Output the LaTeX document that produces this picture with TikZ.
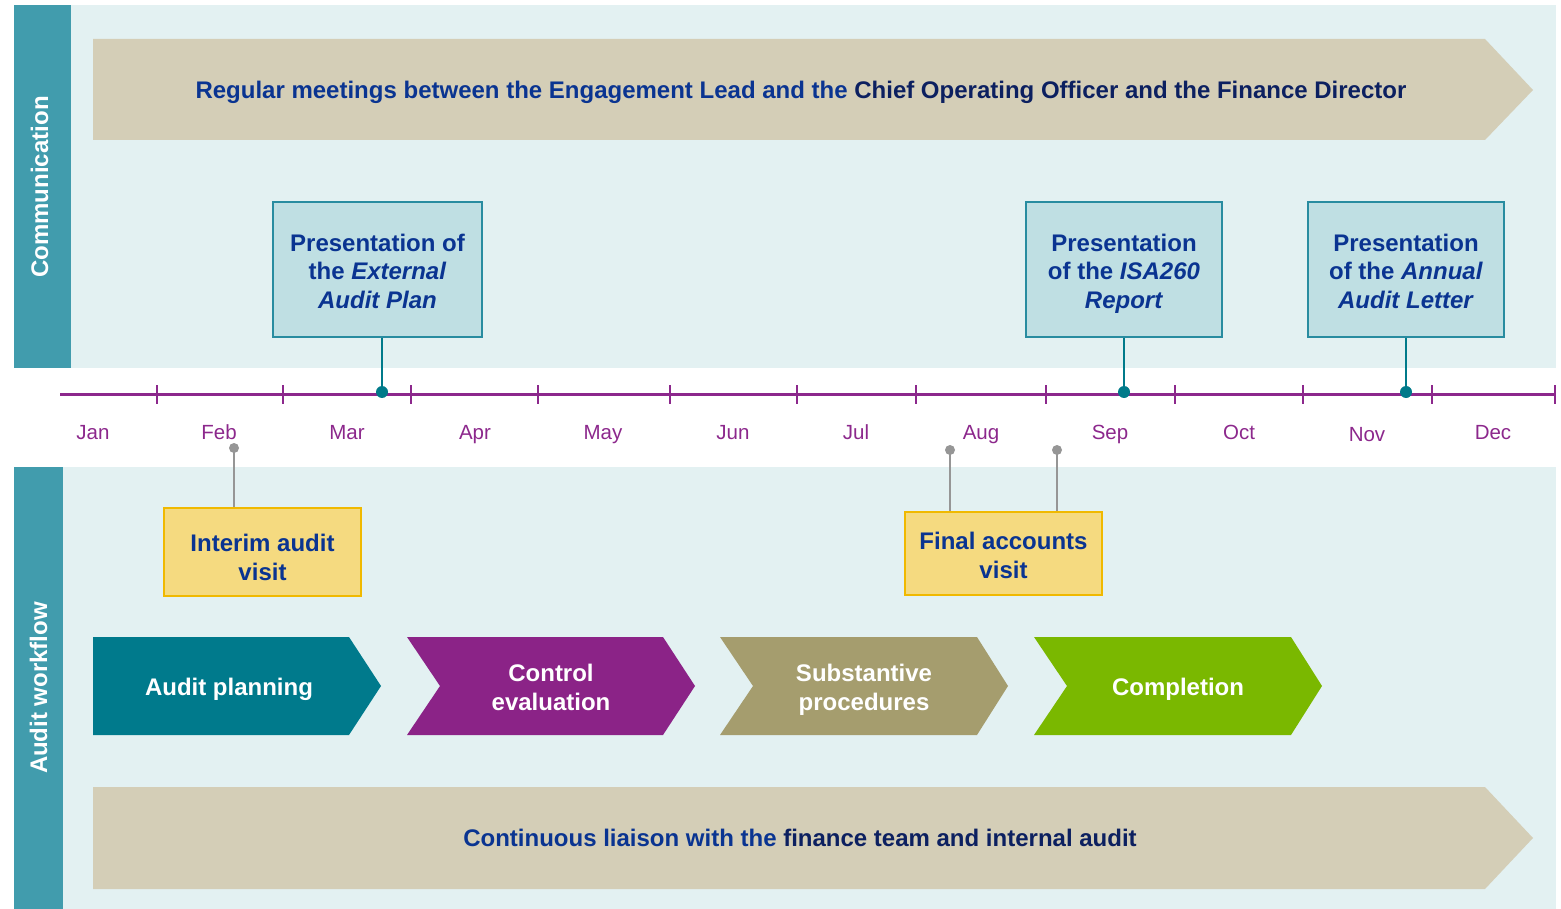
\documentclass[tikz,border=0pt]{standalone}
\usepackage{fontspec}
\setmainfont{Liberation Sans}
\usetikzlibrary{positioning,calc}
\definecolor{sidebar}{RGB}{65,156,173}
\definecolor{panel}{RGB}{227,241,242}
\definecolor{beige}{RGB}{212,206,183}
\definecolor{textblue}{RGB}{10,52,145}
\definecolor{textnavy}{RGB}{12,32,96}
\definecolor{lineviolet}{RGB}{140,40,140}
\definecolor{boxfill}{RGB}{191,223,227}
\definecolor{boxedge}{RGB}{40,140,160}
\definecolor{stemteal}{RGB}{0,122,138}
\definecolor{stemgray}{RGB}{150,150,150}
\definecolor{visitfill}{RGB}{245,218,128}
\definecolor{visitedge}{RGB}{240,185,0}
\definecolor{planning}{RGB}{0,122,140}
\definecolor{control}{RGB}{139,35,135}
\definecolor{substantive}{RGB}{165,157,110}
\definecolor{completion}{RGB}{122,184,0}

\begin{document}
\begin{tikzpicture}[x=1pt, y=-1pt,
    every node/.style={font=\bfseries\fontsize{24}{28.6}\selectfont, inner sep=0pt,
        execute at end node=\vphantom{bg}},
    present/.style={draw=boxedge, line width=1.5pt, fill=boxfill, minimum height=135pt},
    visit/.style={draw=visitedge, line width=1.5pt, fill=visitfill, minimum width=197pt},
    boxtext/.style={text=textblue, align=center},
    month/.style={font=\fontsize{20.5}{24}\selectfont, text=lineviolet},
    phase/.style={text=white, align=center},
    side/.style={text=white, rotate=90}]
    \useasboundingbox (0,0) rectangle (1561,909);
    \fill[panel] (71,5) rectangle (1556,368);
    \fill[sidebar] (14,5) rectangle (71,368);
    \fill[panel] (63,467) rectangle (1556,909);
    \fill[sidebar] (14,467) rectangle (63,909);
    \node[side] (comm) at (42,187) {Communication};
    \node[side] (flow) at (41,688) {Audit workflow};

    \fill[beige] (93,39) -- (1485,39) -- (1533,90) -- (1485,140) -- (93,140) -- cycle;
    \node[text=textblue] (meet) at (801,92)
        {Regular meetings between the Engagement Lead and the \textcolor{textnavy}{Chief Operating Officer and the Finance Director}};
    \fill[beige] (93,787) -- (1485,787) -- (1533,838) -- (1485,889) -- (93,889) -- cycle;
    \node[text=textblue] (liaison) at (800,840)
        {Continuous liaison with the \textcolor{textnavy}{finance team and internal audit}};

    \draw[lineviolet, line width=3pt] (60,394) -- (1556,394);
    \draw[lineviolet, line width=2.5pt]
        (157,385) -- (157,404) (283,385) -- (283,404) (411,385) -- (411,404)
        (538,385) -- (538,404) (670,385) -- (670,404) (797,385) -- (797,404)
        (916,385) -- (916,404) (1046,385) -- (1046,404) (1175,385) -- (1175,404)
        (1303,385) -- (1303,404) (1432,385) -- (1432,404) (1555,385) -- (1555,404);
    \node[month] (jan) at (93,434) {Jan};
    \node[month] (feb) at (219,434) {Feb};
    \node[month] (mar) at (347,434) {Mar};
    \node[month] (apr) at (475,434) {Apr};
    \node[month] (may) at (603,434) {May};
    \node[month] (jun) at (733,434) {Jun};
    \node[month] (jul) at (856,434) {Jul};
    \node[month] (aug) at (981,434) {Aug};
    \node[month] (sep) at (1110,434) {Sep};
    \node[month] (oct) at (1239,434) {Oct};
    \node[month] (nov) at (1367,436) {Nov};
    \node[month] (dec) at (1493,434) {Dec};

    \node[present, minimum width=209pt] (plan) at (377.5,269.5) {};
    \node[present, minimum width=196pt] (isa) at (1124,269.5) {};
    \node[present, minimum width=196pt] (letter) at (1406,269.5) {};
    \node[boxtext] (plantext) at ($(plan.center)+(0,4)$) {Presentation of\\the \textit{External}\\\textit{Audit Plan}};
    \node[boxtext] (isatext) at ($(isa.center)+(0,4)$) {Presentation\\of the \textit{ISA260}\\\textit{Report}};
    \node[boxtext] (lettertext) at ($(letter.center)+(0,4)$) {Presentation\\of the \textit{Annual}\\\textit{Audit Letter}};
    \coordinate (dotplan) at (382,392);
    \coordinate (dotisa) at (1124,392);
    \coordinate (dotletter) at (1406,392);
    \draw[stemteal, line width=2.5pt]
        (plan.south -| dotplan) -- (dotplan)
        (isa.south -| dotisa) -- (dotisa)
        (letter.south -| dotletter) -- (dotletter);
    \fill[stemteal] (dotplan) circle (6pt) (dotisa) circle (6pt) (dotletter) circle (6pt);

    \node[visit, minimum height=88pt] (interim) at (262.5,552) {};
    \node[boxtext] (interimtext) at ($(interim.center)+(0,8)$) {Interim audit\\visit};
    \node[visit, minimum height=83pt] (final) at (1003.5,553.5) {};
    \node[boxtext] (finaltext) at ($(final.center)+(0,4.5)$) {Final accounts\\visit};
    \coordinate (dotint) at (234,448);
    \coordinate (dotfina) at (950,450);
    \coordinate (dotfinb) at (1057,450);
    \draw[stemgray, line width=2.5pt]
        (dotint) -- (dotint |- interim.north)
        (dotfina) -- (dotfina |- final.north)
        (dotfinb) -- (dotfinb |- final.north);
    \fill[stemgray] (dotint) circle (5pt) (dotfina) circle (5pt) (dotfinb) circle (5pt);

    \fill[planning] (93,637) -- (349,637) -- (381,686) -- (349,735) -- (93,735) -- cycle;
    \fill[control] (407,637) -- (663,637) -- (695,686) -- (663,735) -- (407,735) -- (440,686) -- cycle;
    \fill[substantive] (720,637) -- (977,637) -- (1008,686) -- (977,735) -- (720,735) -- (753,686) -- cycle;
    \fill[completion] (1034,637) -- (1291,637) -- (1322,686) -- (1291,735) -- (1034,735) -- (1067,686) -- cycle;
    \node[phase] (audplan) at (229,689) {Audit planning};
    \node[phase] (ctrl) at (551,690) {Control\\evaluation};
    \node[phase] (subst) at (864,690) {Substantive\\procedures};
    \node[phase] (compl) at (1178,689) {Completion};
\end{tikzpicture}
\end{document}
